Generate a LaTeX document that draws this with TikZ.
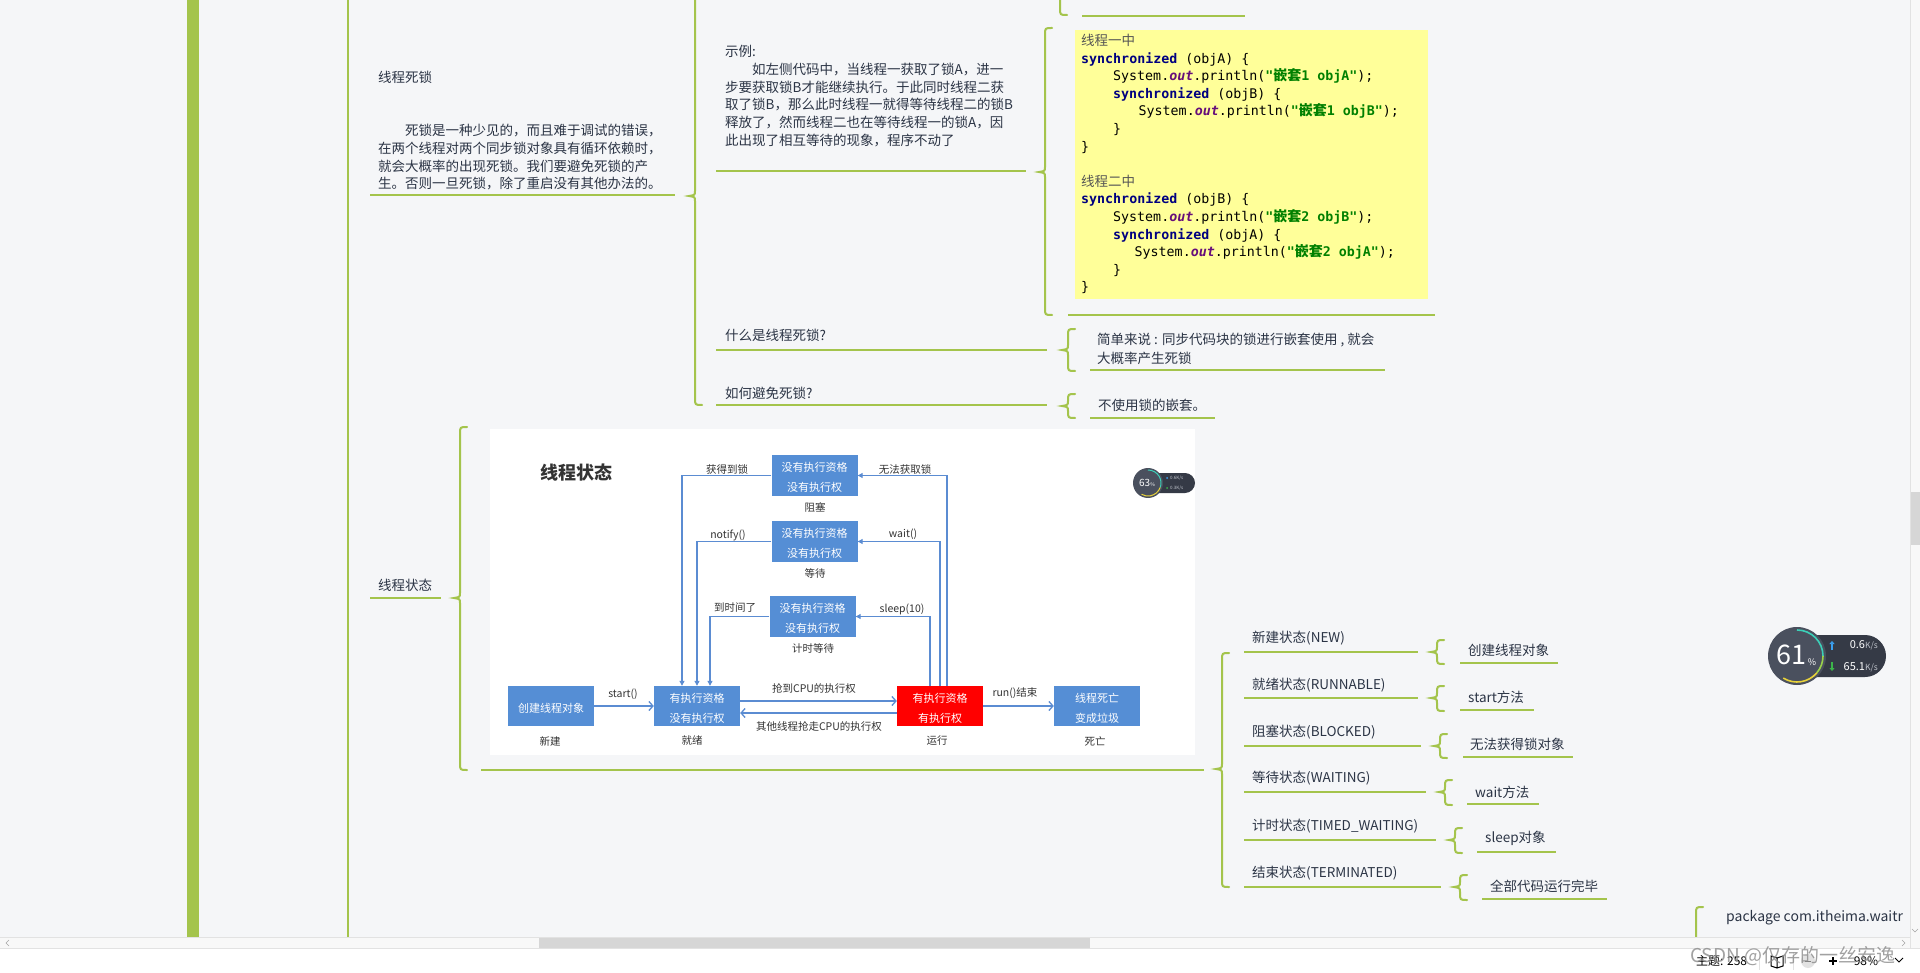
\documentclass[tikz,border=0pt]{standalone}
\usepackage{fontspec}
\setmainfont{Noto Sans CJK SC}
\newfontfamily\cjk{Noto Sans CJK SC}
\newfontfamily\monof{DejaVu Sans Mono}
\usetikzlibrary{arrows.meta}
\definecolor{bgc}{HTML}{F5F6F8}
\definecolor{grn}{HTML}{A4C44C}
\definecolor{txt}{HTML}{2B3445}
\definecolor{codebg}{HTML}{FFFF99}
\definecolor{kwc}{HTML}{000080}
\definecolor{fldc}{HTML}{660E7A}
\definecolor{strc}{HTML}{008000}
\definecolor{cjkg}{HTML}{555555}
\definecolor{boxb}{HTML}{558ED5}
\definecolor{arrb}{HTML}{5B8CD2}
\definecolor{lblc}{HTML}{333333}
\definecolor{gcirc}{HTML}{4A505E}
\definecolor{gpill}{HTML}{353A46}
\definecolor{gsub}{HTML}{C0C4CC}
\definecolor{tealc}{HTML}{3CCFB8}
\definecolor{limec}{HTML}{9BD34A}
\definecolor{yelc}{HTML}{E8D23A}
\definecolor{upc}{HTML}{3BA0F0}
\definecolor{dnc}{HTML}{3CB44A}
\definecolor{trackc}{HTML}{F8F8F8}
\definecolor{thumbc}{HTML}{D6D6D6}
\definecolor{sepc}{HTML}{E2E2E2}
\definecolor{wmc}{HTML}{8A8A8A}
\newcommand\kwd[1]{\textcolor{kwc}{\bfseries #1}}
\newcommand\fout{\textcolor{fldc}{\bfseries\itshape out}}
\newcommand\strg[1]{\textcolor{strc}{\bfseries #1}}
\newcommand\qian{{\cjk\bfseries\fontsize{14}{17.6}\selectfont 嵌套}}
\newcommand\ind[1]{\hspace*{#1pt}}
\newcommand\lw[1]{\raisebox{-2pt}[\height][\depth]{#1}}
\newcommand\mbrace[4]{\draw[brc] (#1+7,#2) .. controls (#1,#2) .. (#1,#2+7) -- (#1,#3-5) .. controls (#1,#3-1) .. (#1-6,#3) .. controls (#1,#3+1) .. (#1,#3+5) -- (#1,#4-7) .. controls (#1,#4) .. (#1+7,#4);}
\begin{document}
\begin{tikzpicture}[x=1pt,y=-1pt,
  uline/.style={grn,line width=2.2pt},
  brc/.style={grn,line width=2pt,line cap=round},
  mm/.style={inner sep=0pt,text=txt,align=left,anchor=north west,font=\fontsize{13.5}{17.7}\selectfont},
  mm1/.style={inner sep=0pt,text=txt,anchor=west,font=\fontsize{13.5}{17.7}\selectfont},
  code/.style={inner sep=0pt,align=left,anchor=north west,font=\monof\fontsize{13.3}{17.6}\selectfont},
  sbox/.style={fill=boxb,minimum width=86pt,minimum height=41pt,inner sep=0pt,text=white,align=center,font=\fontsize{11}{20}\selectfont},
  lab/.style={inner sep=0pt,text=lblc,font=\fontsize{10.5}{12}\selectfont},
  arr/.style={arrb,line width=1.1pt,-{Triangle[length=5pt,width=5pt]}},
  arrc/.style={arrb,line width=1.3pt,-{Straight Barb[length=4pt,width=9pt]}},
]
\useasboundingbox (0,0) rectangle (1920,973);
\fill[bgc] (0,0) rectangle (1920,973);
\begin{scope}
\clip (0,0) rectangle (1910,937);
% left bars
\fill[grn] (187,0) rectangle (199,937);
\draw[grn,line width=2pt] (348,0) -- (348,937);

% ---- 线程死锁 ----
\node[mm] (dl) at (378,71) {线程死锁\\ \mbox{}\\ \mbox{}\\
\hspace*{27pt}死锁是一种少见的，而且难于调试的错误，\\
在两个线程对两个同步锁对象具有循环依赖时，\\
就会大概率的出现死锁。我们要避免死锁的产\\
生。否则一旦死锁，除了重启没有其他办法的。};
\draw[uline] (370,195) -- (675,195);
\mbrace{695}{-60}{196}{405}

% top partial child
\mbrace{1060}{-60}{-25}{15}
\draw[uline] (1082,16) -- (1245,16);

% 示例
\node[mm,font=\fontsize{13.5}{17.8}\selectfont] (sl) at (725,45) {示例:\\
\hspace*{27pt}如左侧代码中，当线程一获取了锁A，进一\\
步要获取锁B才能继续执行。于此同时线程二获\\
取了锁B，那么此时线程一就得等待线程二的锁B\\
释放了，然而线程二也在等待线程一的锁A，因\\
此出现了相互等待的现象，程序不动了};
\draw[uline] (716,171) -- (1026,171);
\mbrace{1045}{28}{172}{315}

% code block
\fill[codebg] (1075,30) rectangle (1428,299);
\node[code] (code) at (1081,34) {%
\textcolor{cjkg}{\cjk\fontsize{13.5}{17.6}\selectfont 线程一中}\\
\kwd{synchronized} (objA) \{\\
\ind{32}System.\fout.println(\strg{"\qian1 objA"});\\
\ind{32}\kwd{synchronized} (objB) \{\\
\ind{57.5}System.\fout.println(\strg{"\qian1 objB"});\\
\ind{32}\}\\
\}\\
\mbox{}\\
\textcolor{cjkg}{\cjk\fontsize{13.5}{17.6}\selectfont 线程二中}\\
\kwd{synchronized} (objB) \{\\
\ind{32}System.\fout.println(\strg{"\qian2 objB"});\\
\ind{32}\kwd{synchronized} (objA) \{\\
\ind{53.5}System.\fout.println(\strg{"\qian2 objA"});\\
\ind{32}\}\\
\}};
\draw[uline] (1068,315) -- (1435,315);

% 什么是线程死锁?
\node[mm1] (wh) at (725,335) {什么是线程死锁?};
\draw[uline] (716,350) -- (1047,350);
\mbrace{1068}{329}{350}{371}
\node[mm,font=\fontsize{13.5}{19}\selectfont] (jd) at (1097,333) {简单来说 : 同步代码块的锁进行嵌套使用 , 就会\\大概率产生死锁};
\draw[uline] (1090,370) -- (1385,370);

% 如何避免死锁?
\node[mm1] (hw) at (725,393) {如何避免死锁?};
\draw[uline] (716,405) -- (1047,405);
\mbrace{1068}{394}{406}{418}
\node[mm1] (bs) at (1098,405) {不使用锁的嵌套。};
\draw[uline] (1090,418) -- (1215,418);

% ---- 线程状态 ----
\node[mm1] (zt) at (378,585) {线程状态};
\draw[uline] (370,598) -- (441,598);
\mbrace{460}{427}{598}{770}
\fill[white] (490,429) rectangle (1195,755);
\draw[uline] (481,770) -- (1204,770);

% diagram
\node[inner sep=0pt,text=lblc,font=\bfseries\fontsize{18}{18}\selectfont] (title) at (576,473) {线程状态};
\node[sbox] (blk) at (814.5,475.5) {\lw{没有执行资格}\\\lw{没有执行权}};
\node[sbox] (wt) at (814.5,541.5) {\lw{没有执行资格}\\\lw{没有执行权}};
\node[sbox] (tw) at (812.5,616.5) {\lw{没有执行资格}\\\lw{没有执行权}};
\node[sbox,minimum height=40pt] (nw) at (551,706) {\lw{创建线程对象}};
\node[sbox,minimum height=40pt] (rdy) at (697,706) {\lw{有执行资格}\\\lw{没有执行权}};
\node[sbox,minimum height=40pt,fill=red] (run) at (940,706) {\lw{有执行资格}\\\lw{有执行权}};
\node[sbox,minimum height=40pt] (dead) at (1097,706) {\lw{线程死亡}\\\lw{变成垃圾}};
\node[lab] (n1) at (815,507) {阻塞};
\node[lab] (n2) at (815,573) {等待};
\node[lab] (n3) at (813,648) {计时等待};
\node[lab] (n4) at (550,741) {新建};
\node[lab] (n5) at (692,741) {就绪};
\node[lab] (n6) at (937,741) {运行};
\node[lab] (n7) at (1095,741) {死亡};
\draw[arrc] (nw.east) -- (rdy.west);
\draw[arrc] ([yshift=5pt]rdy.east) -- ([yshift=5pt]run.west);
\draw[arrc] ([yshift=-7pt]run.west) -- ([yshift=-7pt]rdy.east);
\draw[arrc] (run.east) -- (dead.west);
\draw[arr] ([xshift=7pt]run.north) |- (blk.east);
\draw[arr] (run.north) |- (wt.east);
\draw[arr] ([xshift=-10pt]run.north) |- (tw.east);
\draw[arr] (blk.west) -| ([xshift=-15pt]rdy.north);
\draw[arr] (wt.west) -| (rdy.north);
\draw[arr] (tw.west) -| ([xshift=13pt]rdy.north);
\node[lab] (a1) at (727,469) {获得到锁};
\node[lab] (a2) at (905,469) {无法获取锁};
\node[lab] (a3) at (728,535) {notify()};
\node[lab] (a4) at (903,534) {wait()};
\node[lab] (a5) at (735,608) {到时间了};
\node[lab] (a6) at (902,609) {sleep(10)};
\node[lab] (a7) at (623,694) {start()};
\node[lab] (a8) at (814,688) {抢到CPU的执行权};
\node[lab] (a9) at (819,726) {其他线程抢走CPU的执行权};
\node[lab] (a10) at (1015,693) {run()结束};
% small gauge in image
\fill[gpill,rounded corners=10pt] (1140,473) rectangle (1195,493);
\fill[gcirc] (1148,483) circle[radius=15];
\draw[tealc,line width=1pt] (1148,483) ++(270:13) arc[start angle=270,end angle=380,radius=13];
\draw[yelc,line width=1pt] (1148,483) ++(380:13) arc[start angle=380,end angle=480,radius=13];
\node[inner sep=0pt,text=white,font=\fontsize{10}{10}\selectfont] (g63) at (1147,483) {63{\fontsize{5}{5}\selectfont\%}};
\node[inner sep=0pt,text=gsub,font=\fontsize{4.5}{5}\selectfont,anchor=west] (g63a) at (1170,478) {0.6K/s};
\node[inner sep=0pt,text=gsub,font=\fontsize{4.5}{5}\selectfont,anchor=west] (g63b) at (1170,488) {0.3K/s};
\fill[upc] (1167,478) circle[radius=1];
\fill[dnc] (1167,488) circle[radius=1];

% states
\mbrace{1222}{653}{769}{887}
\node[mm1] (s1) at (1252,638) {新建状态(NEW)};
\node[mm1] (s2) at (1252,685) {就绪状态(RUNNABLE)};
\node[mm1] (s3) at (1252,732) {阻塞状态(BLOCKED)};
\node[mm1] (s4) at (1252,778) {等待状态(WAITING)};
\node[mm1] (s5) at (1252,826) {计时状态(TIMED\_WAITING)};
\node[mm1] (s6) at (1252,873) {结束状态(TERMINATED)};
\draw[uline] (1244,652) -- (1418,652);
\draw[uline] (1244,698) -- (1418,698);
\draw[uline] (1244,746) -- (1421,746);
\draw[uline] (1244,792) -- (1426,792);
\draw[uline] (1244,840) -- (1436,840);
\draw[uline] (1244,887) -- (1441,887);
\mbrace{1437}{640}{652}{664}
\mbrace{1437}{686}{698}{711}
\mbrace{1440}{734}{746}{758}
\mbrace{1445}{780}{792}{805}
\mbrace{1455}{828}{840}{853}
\mbrace{1460}{875}{887}{900}
\node[mm1] (c1) at (1468,650) {创建线程对象};
\node[mm1] (c2) at (1468,697) {start方法};
\node[mm1] (c3) at (1470,744) {无法获得锁对象};
\node[mm1] (c4) at (1475,792) {wait方法};
\node[mm1] (c5) at (1485,838) {sleep对象};
\node[mm1] (c6) at (1490,886) {全部代码运行完毕};
\draw[uline] (1460,663) -- (1558,663);
\draw[uline] (1460,710) -- (1534,710);
\draw[uline] (1463,757) -- (1573,757);
\draw[uline] (1467,804) -- (1539,804);
\draw[uline] (1477,852) -- (1556,852);
\draw[uline] (1482,899) -- (1607,899);

% bottom right partial
\mbrace{1696}{907}{970}{1000}
\node[mm1,font=\fontsize{14}{16}\selectfont] (pk) at (1726,918) {package com.itheima.waitr};

% big gauge
\fill[gpill,rounded corners=21pt] (1780,635) rectangle (1886,677);
\fill[gcirc] (1797,656) circle[radius=29];
\draw[tealc,line width=1.6pt] (1797,656) ++(270:26) arc[start angle=270,end angle=360,radius=26];
\draw[limec,line width=1.6pt] (1797,656) ++(360:26) arc[start angle=360,end angle=400,radius=26];
\draw[yelc,line width=1.6pt] (1797,656) ++(400:26) arc[start angle=400,end angle=482,radius=26];
\node[inner sep=0pt,text=white,font=\fontsize{27}{27}\selectfont] (g61) at (1791,655) {61};
\node[inner sep=0pt,text=white,font=\fontsize{9}{9}\selectfont] (gpc) at (1812,662) {\%};
\draw[upc,line width=1.3pt,-{Triangle[length=3pt,width=5pt]}] (1832,650) -- (1832,641);
\draw[dnc,line width=1.3pt,-{Triangle[length=3pt,width=5pt]}] (1832,662) -- (1832,671);
\node[inner sep=0pt,text=white,anchor=east,font=\fontsize{11}{11}\selectfont] (gu) at (1878,645) {0.6{\fontsize{8.5}{9}\selectfont\textcolor{gsub}{K/s}}};
\node[inner sep=0pt,text=white,anchor=east,font=\fontsize{11}{11}\selectfont] (gd) at (1878,667) {65.1{\fontsize{8.5}{9}\selectfont\textcolor{gsub}{K/s}}};
\end{scope}

% scrollbars
\fill[trackc] (0,937) rectangle (1910,948);
\draw[sepc] (0,937.5) -- (1910,937.5);
\fill[thumbc] (539,938) rectangle (1090,948);
\draw[gray!70,line width=0.6pt] (9,940) -- (6,943) -- (9,946);
\draw[gray!70,line width=0.6pt] (1902,940) -- (1905,943) -- (1902,946);
\fill[trackc] (1910,0) rectangle (1920,948);
\draw[sepc] (1910.5,0) -- (1910.5,948);
\fill[thumbc] (1911,492) rectangle (1920,545);
\draw[gray!70,line width=0.6pt] (1912,929) -- (1915,932) -- (1918,929);

% status bar
\fill[white] (0,948) rectangle (1920,973);
\draw[sepc] (0,948.5) -- (1920,948.5);
\node[inner sep=0pt,anchor=west,font=\fontsize{12}{12}\selectfont] (st) at (1696,961) {主题: 258};
\draw[sepc] (1759,952) -- (1759,970);
\draw[sepc] (1793,952) -- (1793,970);
\draw[black,line width=1pt] (1771,956) -- (1777,958) -- (1783,956) -- (1783,966) -- (1777,968) -- (1771,966) -- cycle (1777,958) -- (1777,968);
\fill[sepc] (1808,961) circle[radius=7];
\draw[gray,line width=1pt] (1805,961) -- (1811,961);
\draw[black,line width=1.4pt] (1829,961) -- (1837,961) (1833,957) -- (1833,965);
\node[inner sep=0pt,font=\fontsize{12}{12}\selectfont] (zm) at (1866,961) {98\%};
\draw[black,line width=1pt] (1895,958) -- (1899,962) -- (1903,958);
\node[inner sep=0pt,anchor=west,text=wmc,opacity=0.8,font=\fontsize{19}{19}\selectfont] (wm) at (1690,956) {CSDN @仅存的一丝安逸};
\end{tikzpicture}
\end{document}
